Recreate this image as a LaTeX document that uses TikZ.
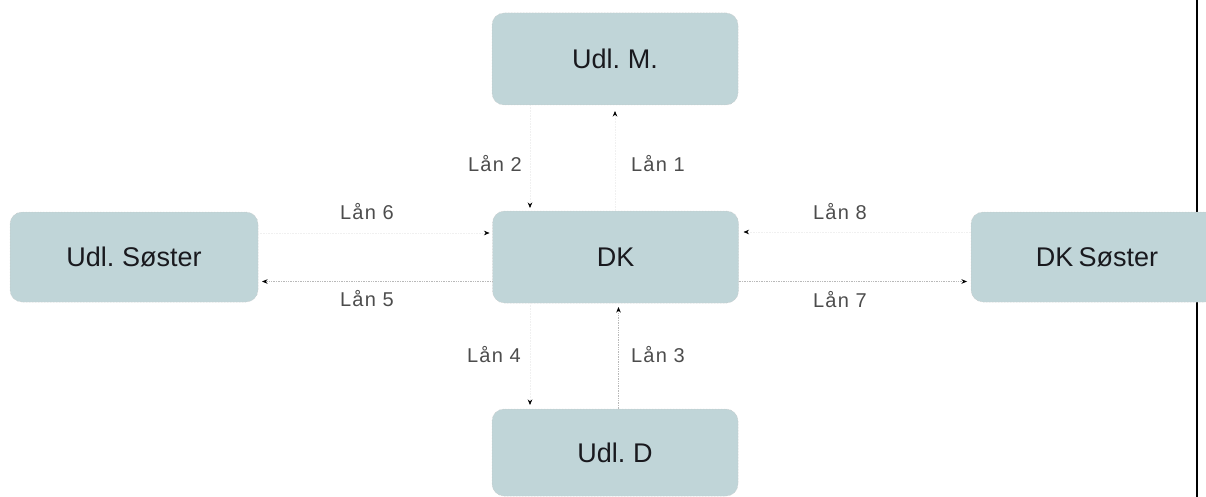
\documentclass[tikz,border=0pt]{standalone}
\usepackage{fontspec}
\setmainfont{Liberation Sans}
\newfontfamily\boxfont[WordSpace=0.7]{Liberation Sans}
\newfontfamily\lblfont[LetterSpace=6]{Liberation Sans}
\usetikzlibrary{arrows.meta}
\definecolor{boxfill}{RGB}{192,213,216}
\definecolor{boxtext}{RGB}{25,25,30}
\tikzset{
  entity/.style={rectangle, rounded corners=12pt, fill=boxfill, draw=gray!45, densely dotted,
    line width=0.5pt, inner sep=0pt, outer sep=0pt, minimum width=246pt, minimum height=92pt,
    text=boxtext, font=\boxfont\fontsize{27}{32}\selectfont},
  vis/.style={draw=gray!55, densely dotted, line width=0.7pt, -{Stealth[length=5.5pt,width=4.5pt,black]}, shorten >=4pt},
  faint/.style={draw=gray!12, densely dotted, line width=0.6pt, -{Stealth[length=5.5pt,width=4.5pt,black]}, shorten >=4pt},
  lbl/.style={text=black!70, font=\lblfont\fontsize{20}{24}\selectfont, inner sep=0pt}
}
\begin{document}
\begin{tikzpicture}[x=1pt,y=-1pt]
\useasboundingbox (0,0) rectangle (1206,497);
% right border line
\draw[black, line width=2pt] (1196.5,0) -- (1196.5,497);
% boxes
\node[entity] (udlm) at (615,59) {Udl. M.};
\node[entity] (dk) at (615.5,257) {DK};
\node[entity, minimum height=87pt] (udld) at (615,452.5) {\raisebox{-4pt}{Udl. D}};
\node[entity, minimum width=248pt, minimum height=90pt] (udls) at (134,257) {Udl. Søster};
\node[entity, minimum height=90pt] (dks) at (1094,257) {\hspace{6pt}DK Søster};
% helper coordinates
\coordinate (cx1) at (615,0);
\coordinate (cx2) at (530,0);
\coordinate (cx3) at (618.5,0);
\coordinate (cy6) at (0,233);
\coordinate (cy8) at (0,232);
\coordinate (cy57) at (0,281.5);
% connectors
\draw[faint, shorten >=6pt] (dk.north -| cx1) -- (udlm.south -| cx1);
\draw[faint, shorten >=3pt] (udlm.south -| cx2) -- (dk.north -| cx2);
\draw[vis] (udld.north -| cx3) -- (dk.south -| cx3);
\draw[faint] (dk.south -| cx2) -- (udld.north -| cx2);
\draw[vis] (dk.west |- cy57) -- (udls.east |- cy57);
\draw[faint, shorten >=3pt] (udls.east |- cy6) -- (dk.west |- cy6);
\draw[vis] (dk.east |- cy57) -- (dks.west |- cy57);
\draw[faint, shorten >=5pt] (dks.west |- cy8) -- (dk.east |- cy8);
% labels
\node[lbl] (l1) at (658,164) {Lån 1};
\node[lbl] (l2) at (495,164) {Lån 2};
\node[lbl] (l3) at (658,355) {Lån 3};
\node[lbl] (l4) at (494,355) {Lån 4};
\node[lbl] (l5) at (367,299) {Lån 5};
\node[lbl] (l6) at (367,212) {Lån 6};
\node[lbl] (l7) at (840,300) {Lån 7};
\node[lbl] (l8) at (840,212) {Lån 8};
\end{tikzpicture}
\end{document}
